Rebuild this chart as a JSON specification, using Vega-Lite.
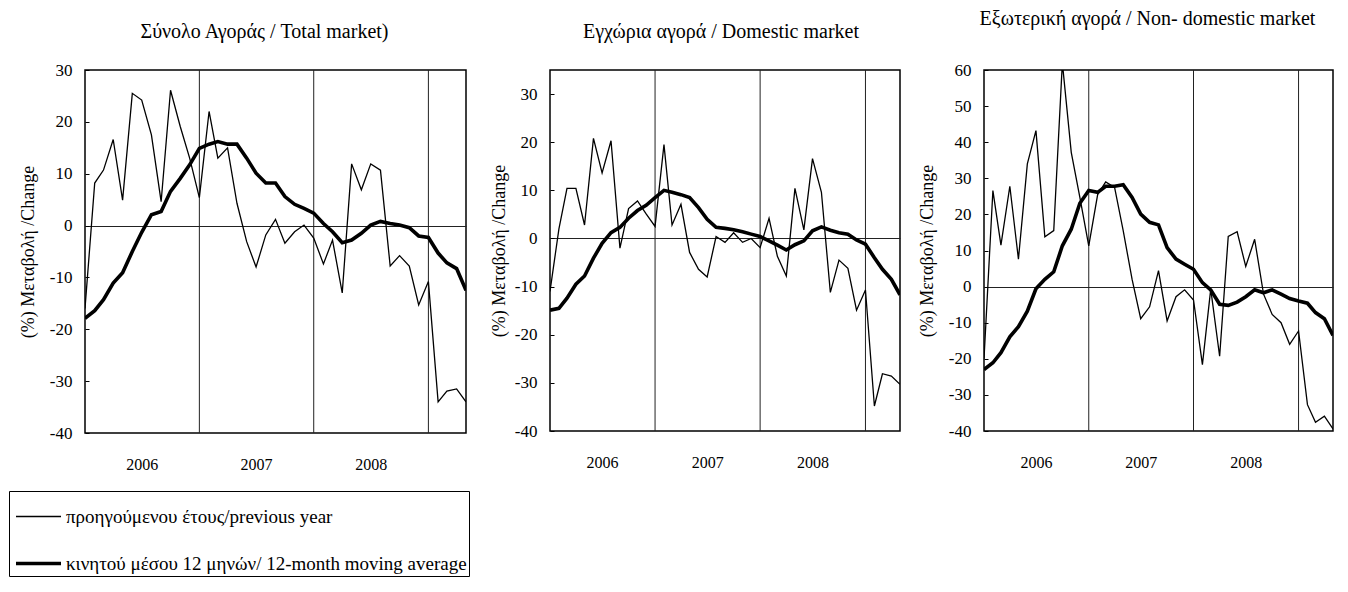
{
"$schema": "https://vega.github.io/schema/vega-lite/v6.json",
"padding": {"left": 7, "top": 8, "right": 0, "bottom": 0},
"bounds": "flush",
"spacing": 84,
"datasets": {
"years": [{"date":"2007-01"},{"date":"2008-01"},{"date":"2009-01"}],
"total": [
{"date":"2006-01","s":"prev","v":-16},{"date":"2006-02","s":"prev","v":8.2},{"date":"2006-03","s":"prev","v":10.7},{"date":"2006-04","s":"prev","v":16.6},{"date":"2006-05","s":"prev","v":4.9},{"date":"2006-06","s":"prev","v":25.5},{"date":"2006-07","s":"prev","v":24.2},{"date":"2006-08","s":"prev","v":17.5},{"date":"2006-09","s":"prev","v":4.6},{"date":"2006-10","s":"prev","v":26.1},{"date":"2006-11","s":"prev","v":19.1},{"date":"2006-12","s":"prev","v":13.0},
{"date":"2007-01","s":"prev","v":5.4},{"date":"2007-02","s":"prev","v":22.0},{"date":"2007-03","s":"prev","v":13.0},{"date":"2007-04","s":"prev","v":15.0},{"date":"2007-05","s":"prev","v":4.3},{"date":"2007-06","s":"prev","v":-3.1},{"date":"2007-07","s":"prev","v":-8.0},{"date":"2007-08","s":"prev","v":-1.8},{"date":"2007-09","s":"prev","v":1.2},{"date":"2007-10","s":"prev","v":-3.4},{"date":"2007-11","s":"prev","v":-1.2},{"date":"2007-12","s":"prev","v":0.1},
{"date":"2008-01","s":"prev","v":-2.4},{"date":"2008-02","s":"prev","v":-7.4},{"date":"2008-03","s":"prev","v":-2.8},{"date":"2008-04","s":"prev","v":-13.0},{"date":"2008-05","s":"prev","v":11.9},{"date":"2008-06","s":"prev","v":6.9},{"date":"2008-07","s":"prev","v":11.9},{"date":"2008-08","s":"prev","v":10.7},{"date":"2008-09","s":"prev","v":-7.8},{"date":"2008-10","s":"prev","v":-5.8},{"date":"2008-11","s":"prev","v":-7.8},{"date":"2008-12","s":"prev","v":-15.3},
{"date":"2009-01","s":"prev","v":-10.8},{"date":"2009-02","s":"prev","v":-34.0},{"date":"2009-03","s":"prev","v":-31.9},{"date":"2009-04","s":"prev","v":-31.5},{"date":"2009-05","s":"prev","v":-34.0},
{"date":"2006-01","s":"ma","v":-17.9},{"date":"2006-02","s":"ma","v":-16.4},{"date":"2006-03","s":"ma","v":-14.3},{"date":"2006-04","s":"ma","v":-11.1},{"date":"2006-05","s":"ma","v":-9.1},{"date":"2006-06","s":"ma","v":-5.0},{"date":"2006-07","s":"ma","v":-1.3},{"date":"2006-08","s":"ma","v":2.1},{"date":"2006-09","s":"ma","v":2.7},{"date":"2006-10","s":"ma","v":6.6},{"date":"2006-11","s":"ma","v":9.1},{"date":"2006-12","s":"ma","v":11.7},
{"date":"2007-01","s":"ma","v":14.9},{"date":"2007-02","s":"ma","v":15.7},{"date":"2007-03","s":"ma","v":16.2},{"date":"2007-04","s":"ma","v":15.7},{"date":"2007-05","s":"ma","v":15.7},{"date":"2007-06","s":"ma","v":13.0},{"date":"2007-07","s":"ma","v":10.1},{"date":"2007-08","s":"ma","v":8.2},{"date":"2007-09","s":"ma","v":8.2},{"date":"2007-10","s":"ma","v":5.6},{"date":"2007-11","s":"ma","v":4.1},{"date":"2007-12","s":"ma","v":3.3},
{"date":"2008-01","s":"ma","v":2.4},{"date":"2008-02","s":"ma","v":0.4},{"date":"2008-03","s":"ma","v":-1.2},{"date":"2008-04","s":"ma","v":-3.3},{"date":"2008-05","s":"ma","v":-2.8},{"date":"2008-06","s":"ma","v":-1.5},{"date":"2008-07","s":"ma","v":0.1},{"date":"2008-08","s":"ma","v":0.8},{"date":"2008-09","s":"ma","v":0.4},{"date":"2008-10","s":"ma","v":0.1},{"date":"2008-11","s":"ma","v":-0.4},{"date":"2008-12","s":"ma","v":-2.0},
{"date":"2009-01","s":"ma","v":-2.3},{"date":"2009-02","s":"ma","v":-5.3},{"date":"2009-03","s":"ma","v":-7.2},{"date":"2009-04","s":"ma","v":-8.3},{"date":"2009-05","s":"ma","v":-12.5}
],
"domestic": [
{"date":"2006-01","s":"prev","v":-11},{"date":"2006-02","s":"prev","v":2},{"date":"2006-03","s":"prev","v":10.4},{"date":"2006-04","s":"prev","v":10.4},{"date":"2006-05","s":"prev","v":2.8},{"date":"2006-06","s":"prev","v":20.8},{"date":"2006-07","s":"prev","v":13.6},{"date":"2006-08","s":"prev","v":20.3},{"date":"2006-09","s":"prev","v":-2.0},{"date":"2006-10","s":"prev","v":6.2},{"date":"2006-11","s":"prev","v":7.8},{"date":"2006-12","s":"prev","v":5.1},
{"date":"2007-01","s":"prev","v":2.5},{"date":"2007-02","s":"prev","v":19.5},{"date":"2007-03","s":"prev","v":2.8},{"date":"2007-04","s":"prev","v":7.1},{"date":"2007-05","s":"prev","v":-2.9},{"date":"2007-06","s":"prev","v":-6.4},{"date":"2007-07","s":"prev","v":-8.0},{"date":"2007-08","s":"prev","v":0.4},{"date":"2007-09","s":"prev","v":-0.8},{"date":"2007-10","s":"prev","v":1.2},{"date":"2007-11","s":"prev","v":-0.8},{"date":"2007-12","s":"prev","v":0.0},
{"date":"2008-01","s":"prev","v":-1.9},{"date":"2008-02","s":"prev","v":4.2},{"date":"2008-03","s":"prev","v":-3.7},{"date":"2008-04","s":"prev","v":-7.8},{"date":"2008-05","s":"prev","v":10.4},{"date":"2008-06","s":"prev","v":1.8},{"date":"2008-07","s":"prev","v":16.6},{"date":"2008-08","s":"prev","v":9.6},{"date":"2008-09","s":"prev","v":-11.2},{"date":"2008-10","s":"prev","v":-4.5},{"date":"2008-11","s":"prev","v":-6.2},{"date":"2008-12","s":"prev","v":-14.9},
{"date":"2009-01","s":"prev","v":-10.7},{"date":"2009-02","s":"prev","v":-34.8},{"date":"2009-03","s":"prev","v":-28.1},{"date":"2009-04","s":"prev","v":-28.6},{"date":"2009-05","s":"prev","v":-30.3},
{"date":"2006-01","s":"ma","v":-14.9},{"date":"2006-02","s":"ma","v":-14.5},{"date":"2006-03","s":"ma","v":-12.4},{"date":"2006-04","s":"ma","v":-9.5},{"date":"2006-05","s":"ma","v":-7.8},{"date":"2006-06","s":"ma","v":-4.1},{"date":"2006-07","s":"ma","v":-1.0},{"date":"2006-08","s":"ma","v":1.2},{"date":"2006-09","s":"ma","v":2.3},{"date":"2006-10","s":"ma","v":4.2},{"date":"2006-11","s":"ma","v":5.8},{"date":"2006-12","s":"ma","v":6.9},
{"date":"2007-01","s":"ma","v":8.5},{"date":"2007-02","s":"ma","v":10.0},{"date":"2007-03","s":"ma","v":9.6},{"date":"2007-04","s":"ma","v":9.1},{"date":"2007-05","s":"ma","v":8.5},{"date":"2007-06","s":"ma","v":6.4},{"date":"2007-07","s":"ma","v":4.0},{"date":"2007-08","s":"ma","v":2.3},{"date":"2007-09","s":"ma","v":2.1},{"date":"2007-10","s":"ma","v":1.8},{"date":"2007-11","s":"ma","v":1.4},{"date":"2007-12","s":"ma","v":0.9},
{"date":"2008-01","s":"ma","v":0.4},{"date":"2008-02","s":"ma","v":-0.5},{"date":"2008-03","s":"ma","v":-1.4},{"date":"2008-04","s":"ma","v":-2.4},{"date":"2008-05","s":"ma","v":-1.3},{"date":"2008-06","s":"ma","v":-0.5},{"date":"2008-07","s":"ma","v":1.6},{"date":"2008-08","s":"ma","v":2.4},{"date":"2008-09","s":"ma","v":1.7},{"date":"2008-10","s":"ma","v":1.2},{"date":"2008-11","s":"ma","v":0.9},{"date":"2008-12","s":"ma","v":-0.3},
{"date":"2009-01","s":"ma","v":-1.2},{"date":"2009-02","s":"ma","v":-4.0},{"date":"2009-03","s":"ma","v":-6.4},{"date":"2009-04","s":"ma","v":-8.5},{"date":"2009-05","s":"ma","v":-11.7}
],
"nondomestic": [
{"date":"2006-01","s":"prev","v":-20},{"date":"2006-02","s":"prev","v":26.6},{"date":"2006-03","s":"prev","v":11.5},{"date":"2006-04","s":"prev","v":27.8},{"date":"2006-05","s":"prev","v":7.6},{"date":"2006-06","s":"prev","v":34.0},{"date":"2006-07","s":"prev","v":43.2},{"date":"2006-08","s":"prev","v":13.8},{"date":"2006-09","s":"prev","v":15.5},{"date":"2006-10","s":"prev","v":62},{"date":"2006-11","s":"prev","v":37.2},{"date":"2006-12","s":"prev","v":24.7},
{"date":"2007-01","s":"prev","v":11.3},{"date":"2007-02","s":"prev","v":25.5},{"date":"2007-03","s":"prev","v":29.0},{"date":"2007-04","s":"prev","v":27.5},{"date":"2007-05","s":"prev","v":15.5},{"date":"2007-06","s":"prev","v":2.0},{"date":"2007-07","s":"prev","v":-8.9},{"date":"2007-08","s":"prev","v":-5.6},{"date":"2007-09","s":"prev","v":4.4},{"date":"2007-10","s":"prev","v":-9.5},{"date":"2007-11","s":"prev","v":-2.8},{"date":"2007-12","s":"prev","v":-0.9},
{"date":"2008-01","s":"prev","v":-3.7},{"date":"2008-02","s":"prev","v":-21.6},{"date":"2008-03","s":"prev","v":-0.7},{"date":"2008-04","s":"prev","v":-19.3},{"date":"2008-05","s":"prev","v":13.9},{"date":"2008-06","s":"prev","v":15.2},{"date":"2008-07","s":"prev","v":5.6},{"date":"2008-08","s":"prev","v":13.1},{"date":"2008-09","s":"prev","v":-2.1},{"date":"2008-10","s":"prev","v":-7.7},{"date":"2008-11","s":"prev","v":-10.0},{"date":"2008-12","s":"prev","v":-16.0},
{"date":"2009-01","s":"prev","v":-12.3},{"date":"2009-02","s":"prev","v":-32.7},{"date":"2009-03","s":"prev","v":-37.6},{"date":"2009-04","s":"prev","v":-35.9},{"date":"2009-05","s":"prev","v":-39.4},
{"date":"2006-01","s":"ma","v":-23.0},{"date":"2006-02","s":"ma","v":-21.1},{"date":"2006-03","s":"ma","v":-18.3},{"date":"2006-04","s":"ma","v":-13.9},{"date":"2006-05","s":"ma","v":-11.1},{"date":"2006-06","s":"ma","v":-6.8},{"date":"2006-07","s":"ma","v":-0.6},{"date":"2006-08","s":"ma","v":2.0},{"date":"2006-09","s":"ma","v":4.1},{"date":"2006-10","s":"ma","v":11.3},{"date":"2006-11","s":"ma","v":15.9},{"date":"2006-12","s":"ma","v":23.1},
{"date":"2007-01","s":"ma","v":26.6},{"date":"2007-02","s":"ma","v":26.1},{"date":"2007-03","s":"ma","v":27.8},{"date":"2007-04","s":"ma","v":27.8},{"date":"2007-05","s":"ma","v":28.2},{"date":"2007-06","s":"ma","v":24.7},{"date":"2007-07","s":"ma","v":20.1},{"date":"2007-08","s":"ma","v":17.8},{"date":"2007-09","s":"ma","v":17.1},{"date":"2007-10","s":"ma","v":10.8},{"date":"2007-11","s":"ma","v":7.6},{"date":"2007-12","s":"ma","v":6.2},
{"date":"2008-01","s":"ma","v":4.8},{"date":"2008-02","s":"ma","v":1.1},{"date":"2008-03","s":"ma","v":-0.9},{"date":"2008-04","s":"ma","v":-4.9},{"date":"2008-05","s":"ma","v":-5.2},{"date":"2008-06","s":"ma","v":-4.3},{"date":"2008-07","s":"ma","v":-2.8},{"date":"2008-08","s":"ma","v":-0.9},{"date":"2008-09","s":"ma","v":-1.7},{"date":"2008-10","s":"ma","v":-0.9},{"date":"2008-11","s":"ma","v":-2.1},{"date":"2008-12","s":"ma","v":-3.3},
{"date":"2009-01","s":"ma","v":-4.0},{"date":"2009-02","s":"ma","v":-4.6},{"date":"2009-03","s":"ma","v":-7.2},{"date":"2009-04","s":"ma","v":-8.9},{"date":"2009-05","s":"ma","v":-13.5}
]
},
"resolve": {
"scale": {"x": "independent", "y": "independent", "strokeWidth": "independent"},
"axis": {"x": "independent", "y": "independent"},
"legend": {"strokeWidth": "independent"}
},
"hconcat": [
{
"width": 381, "height": 363,
"title": {"text": "Σύνολο Αγοράς / Total market)", "offset": 19, "dx": -11},
"layer": [
{"data": {"name": "years"}, "mark": {"type": "rule", "color": "#222", "strokeWidth": 1},
 "encoding": {"x": {"field": "date", "type": "temporal", "title": null}}},
{"data": {"name": "total"}, "mark": {"type": "line", "color": "black", "clip": true},
 "encoding": {
  "x": {"field": "date", "type": "temporal",
   "scale": {"type": "utc", "domain": [{"year": 2006, "month": 1, "date": 1, "utc": true}, {"year": 2009, "month": 5, "date": 1, "utc": true}]},
   "axis": {"title": null, "format": "%Y", "labelFont": "Liberation Serif", "values": [{"year": 2006, "month": 7, "date": 1, "utc": true}, {"year": 2007, "month": 7, "date": 1, "utc": true}, {"year": 2008, "month": 7, "date": 1, "utc": true}]}},
  "y": {"field": "v", "type": "quantitative", "scale": {"domain": [-40, 30], "nice": false, "zero": false},
   "axis": {"title": "(%) Μεταβολή /Change", "labelFont": "Liberation Serif", "titleFont": "Liberation Serif", "labelExpr": "datum.value + ''", "values": [-40, -30, -20, -10, 0, 10, 20, 30], "titlePadding": 12,
    "grid": true, "gridWidth": 1, "gridColor": {"condition": {"test": "datum.value === 0", "value": "#222"}, "value": "transparent"}}},
  "detail": {"field": "s", "type": "nominal"},
  "strokeWidth": {"field": "s", "type": "nominal", "scale": {"domain": ["prev", "ma"], "range": [1.3, 3.6]},
   "legend": {"orient": "none", "legendX": -76, "legendY": 421, "title": null, "symbolType": "stroke", "symbolSize": 2025, "symbolStrokeColor": "black", "symbolOffset": 3,
    "labelFont": "Liberation Serif", "labelFontSize": 19, "labelColor": "black", "labelLimit": 700, "labelOffset": 3, "strokeColor": "black", "fillColor": "white", "padding": 2, "rowPadding": 12,
    "labelExpr": "datum.value == 'prev' ? 'προηγούμενου έτους/previous year' : 'κινητού μέσου 12 μηνών/ 12-month moving average'"}}
 }}
]
},
{
"width": 350, "height": 361,
"title": {"text": "Εγχώρια αγορά / Domestic market", "offset": 28, "dx": -4},
"layer": [
{"data": {"name": "years"}, "mark": {"type": "rule", "color": "#222", "strokeWidth": 1},
 "encoding": {"x": {"field": "date", "type": "temporal", "title": null}}},
{"data": {"name": "domestic"}, "mark": {"type": "line", "color": "black", "clip": true},
 "encoding": {
  "x": {"field": "date", "type": "temporal",
   "scale": {"type": "utc", "domain": [{"year": 2006, "month": 1, "date": 1, "utc": true}, {"year": 2009, "month": 5, "date": 1, "utc": true}]},
   "axis": {"title": null, "format": "%Y", "labelFont": "Liberation Serif", "values": [{"year": 2006, "month": 7, "date": 1, "utc": true}, {"year": 2007, "month": 7, "date": 1, "utc": true}, {"year": 2008, "month": 7, "date": 1, "utc": true}]}},
  "y": {"field": "v", "type": "quantitative", "scale": {"domain": [-40, 35], "nice": false, "zero": false},
   "axis": {"title": "(%) Μεταβολή /Change", "labelFont": "Liberation Serif", "titleFont": "Liberation Serif", "labelExpr": "datum.value + ''", "values": [-40, -30, -20, -10, 0, 10, 20, 30], "titlePadding": 6,
    "grid": true, "gridWidth": 1, "gridColor": {"condition": {"test": "datum.value === 0", "value": "#222"}, "value": "transparent"}}},
  "detail": {"field": "s", "type": "nominal"},
  "strokeWidth": {"field": "s", "type": "nominal", "scale": {"domain": ["prev", "ma"], "range": [1.3, 3.6]}, "legend": null}
 }}
]
},
{
"width": 349, "height": 361,
"title": {"text": "Εξωτερική αγορά / Non- domestic market", "offset": 32, "dx": -11},
"layer": [
{"data": {"name": "years"}, "mark": {"type": "rule", "color": "#222", "strokeWidth": 1},
 "encoding": {"x": {"field": "date", "type": "temporal", "title": null}}},
{"data": {"name": "nondomestic"}, "mark": {"type": "line", "color": "black", "clip": true},
 "encoding": {
  "x": {"field": "date", "type": "temporal",
   "scale": {"type": "utc", "domain": [{"year": 2006, "month": 1, "date": 1, "utc": true}, {"year": 2009, "month": 5, "date": 1, "utc": true}]},
   "axis": {"title": null, "format": "%Y", "labelFont": "Liberation Serif", "values": [{"year": 2006, "month": 7, "date": 1, "utc": true}, {"year": 2007, "month": 7, "date": 1, "utc": true}, {"year": 2008, "month": 7, "date": 1, "utc": true}]}},
  "y": {"field": "v", "type": "quantitative", "scale": {"domain": [-40, 60], "nice": false, "zero": false},
   "axis": {"title": "(%) Μεταβολή /Change", "labelFont": "Liberation Serif", "titleFont": "Liberation Serif", "labelExpr": "datum.value + ''", "labelOverlap": false, "values": [-40, -30, -20, -10, 0, 10, 20, 30, 40, 50, 60], "titlePadding": 12,
    "grid": true, "gridWidth": 1, "gridColor": {"condition": {"test": "datum.value === 0", "value": "#222"}, "value": "transparent"}}},
  "detail": {"field": "s", "type": "nominal"},
  "strokeWidth": {"field": "s", "type": "nominal", "scale": {"domain": ["prev", "ma"], "range": [1.3, 3.6]}, "legend": null}
 }}
]
}
],
"config": {
"view": {"stroke": "black", "strokeWidth": 1.5},
"font": "Liberation Serif",
"title": {"font": "Liberation Serif", "fontSize": 20, "fontWeight": "normal", "color": "black", "anchor": "middle", "frame": "group", "baseline": "alphabetic"},
"axis": {"labelFont": "Liberation Serif", "titleFont": "Liberation Serif", "labelColor": "black", "titleColor": "black", "grid": false, "domain": false, "titleFontWeight": "normal", "titleFontSize": 18, "labelFontSize": 17},
"axisX": {"ticks": false, "labelPadding": 23, "labelFontSize": 16, "labelFlush": false},
"axisY": {"tickSize": -4, "tickColor": "black", "tickWidth": 1, "labelPadding": 17, "labelOverlap": false}
}
}
